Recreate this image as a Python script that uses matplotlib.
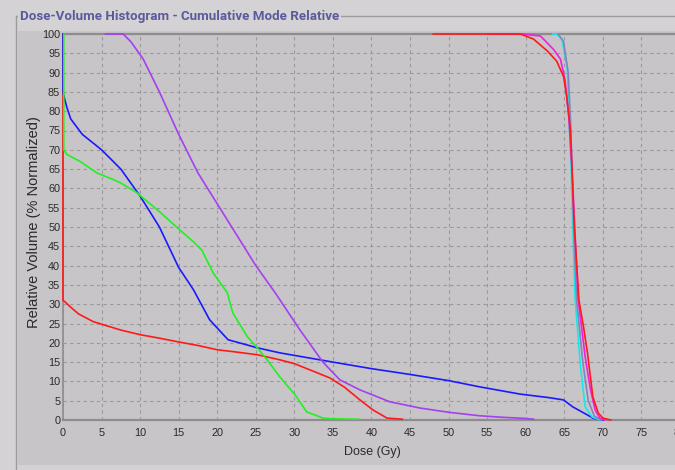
import matplotlib
matplotlib.use("Agg")
import matplotlib.pyplot as plt
from matplotlib.patches import Rectangle
from matplotlib.lines import Line2D
from matplotlib import font_manager

# ---------------- data ----------------
x_ticks = list(range(0, 85, 5))
y_ticks = list(range(0, 105, 5))

red_low_dose = [0, 0, 0.26, 0.9, 2, 3.9, 5.2, 7.5, 10, 12.5, 14.8, 17.5, 20, 22.5, 25.2, 28.1,
                30, 32, 34.6, 36.5, 38.5, 40.2, 42, 44]
red_low_vol = [100, 31, 30.6, 29.4, 27.5, 25.5, 24.7, 23.3, 22.1, 21.2, 20.3, 19.3, 18.2, 17.6,
               16.9, 15.6, 14.6, 13, 10.9, 8.5, 5.2, 2.6, 0.5, 0.2]

blue_dose = [0, 0, 0.1, 0.5, 1, 2.5, 5, 7.5, 10, 12.5, 15, 16.9, 19, 21.4, 25.2, 28.1, 35, 40, 45,
             50, 54, 59.3, 63, 64.9, 66.1, 68, 68.7, 69.5, 70]
blue_vol = [100, 85, 84, 81, 78, 74, 70, 65, 58, 50, 39.5, 33.8, 26, 20.8, 18.7, 17.4, 15.0, 13.3,
            11.8, 10.2, 8.6, 6.7, 5.8, 5.2, 3.4, 1.3, 0.5, 0.1, 0]

green_dose = [0.1, 0.1, 0.5, 2.2, 4.4, 6.5, 7.4, 9.5, 12.5, 15, 17, 18, 19.5, 21.3, 22, 23.9,
              25.2, 26.5, 28.1, 30.1, 31.6, 33.7, 35, 38.3]
green_vol = [100, 70, 68.8, 67, 64, 62.3, 61.5, 59, 54, 49.5, 46, 44, 38, 33, 27.8, 21.6, 18.7,
             15.5, 11.2, 6.5, 2.1, 0.5, 0.3, 0.2]

purple_dose = [5.5, 7.8, 8.8, 10.4, 12.5, 15, 17.5, 20, 22.5, 25, 27.5, 30.7, 33.7, 35.9, 38.5,
               42.4, 46.3, 50, 54, 57, 60, 61]
purple_vol = [100, 100, 98, 93.5, 85, 74, 64, 56, 48, 40, 33, 23.4, 15, 10.4, 7.8, 4.7, 3.1,
              2.0, 1.1, 0.7, 0.4, 0.2]

cyan_dose = [63.5, 64.0, 64.7, 65.4, 65.6, 65.9, 66.1, 66.4, 67.1, 67.7, 68.6, 69.6]
cyan_vol = [100, 100, 98.7, 91, 78, 65, 50, 31.2, 13.8, 3.4, 0.8, 0]

slate_dose = [64.2, 64.9, 65.5, 65.8, 66.0, 66.2, 66.6, 67.4, 68.1, 68.9, 69.8]
slate_vol = [100, 98, 90, 78, 65, 50, 31, 15, 5, 1, 0]

magenta_dose = [55, 59.3, 61.9, 63.6, 64.5, 65.1, 65.6, 66.0, 66.4, 66.8, 67.7, 68.4, 69.0, 69.6, 70.2]
magenta_vol = [100, 100, 99.5, 96, 93.5, 88, 78, 65, 48, 31.2, 16.4, 7.8, 2.6, 0.5, 0]

red_high_dose = [48, 59.3, 61, 62.8, 64, 64.9, 65.3, 65.8, 66.0, 66.3, 66.9, 67.5, 68.0, 68.7,
                 69.4, 70, 71]
red_high_vol = [100, 100, 98.7, 95.6, 93, 89, 84, 75, 65, 50, 31, 24, 17.4, 6, 1.8, 0.5, 0]

title = "Dose-Volume Histogram - Cumulative Mode Relative"
xlabel = "Dose (Gy)"
ylabel = "Relative Volume (% Normalized)"

# ---------------- styling ----------------
W, H = 675, 470
FIG_BG = "#d4d2d4"
PANEL_BG = "#c8c5c8"

avail = {f.name for f in font_manager.fontManager.ttflist}
if "Liberation Sans Narrow" in avail:
    title_family = "Liberation Sans Narrow"
elif "Roboto" in avail:
    title_family = "Roboto"
else:
    title_family = "Liberation Sans"
label_family = "Liberation Sans"

fig = plt.figure(figsize=(W / 100, H / 100), dpi=100, facecolor=FIG_BG)

# background overlay axes in pixel coordinates
bg = fig.add_axes([0, 0, 1, 1], zorder=0)
bg.set_xlim(0, W)
bg.set_ylim(H, 0)
bg.axis("off")
bg.add_patch(Rectangle((18, 31), W - 18, 465 - 31, facecolor=PANEL_BG, edgecolor="none"))
# group box border
bg.add_line(Line2D([16, 16], [16, H], color="#9c9a9c", lw=1.0))
bg.add_line(Line2D([16, W], [16, 16], color="#9c9a9c", lw=1.0))
t = bg.text(20, 16.5, title, color="#5a5a9c", fontsize=10, fontweight="bold",
            family=title_family, ha="left", va="center",
            bbox=dict(facecolor=FIG_BG, edgecolor="none", pad=1.5))
fig.canvas.draw()
bb = t.get_window_extent()
target = 300.0
size = 10 * target / bb.width
t.set_fontsize(max(size, 9.6))

# main axes
left, right, top, bottom = 63, 680, 34, 420
ax = fig.add_axes([left / W, 1 - bottom / H, (right - left) / W, (bottom - top) / H], zorder=1)
ax.set_facecolor(PANEL_BG)

lw = 1.2
kw = dict(lw=lw, zorder=3, clip_on=False)
ax.plot(red_low_dose, red_low_vol, color="#ff1a1a", **kw)
ax.plot(blue_dose, blue_vol, color="#1a1aff", **kw)
ax.plot(green_dose, green_vol, color="#22f022", **kw)
ax.plot(purple_dose, purple_vol, color="#a440f0", **kw)
ax.plot(cyan_dose, cyan_vol, color="#18e8e8", **kw)
ax.plot(slate_dose, slate_vol, color="#8484bc", **kw)
ax.plot(magenta_dose, magenta_vol, color="#f41ee0", **kw)
ax.plot(red_high_dose, red_high_vol, color="#ff1a1a", **kw)

ax.set_xlim(0, 80)
ax.set_ylim(0, 100)
ax.set_xticks(x_ticks)
ax.set_yticks(y_ticks)
ax.set_xticklabels([str(v) for v in x_ticks])
ax.set_yticklabels([str(v) for v in y_ticks])
ax.tick_params(axis="both", length=0, labelsize=7.8, labelcolor="#2a2a2a")
ax.tick_params(axis="y", pad=2)
ax.tick_params(axis="x", pad=6)
for lab in ax.get_xticklabels() + ax.get_yticklabels():
    lab.set_family(label_family)

ax.grid(True, color="#9a989a", lw=0.8, linestyle=(0, (3, 3)))
ax.set_axisbelow(True)

for s in ["top", "bottom"]:
    ax.spines[s].set_color("#8e8c8e")
    ax.spines[s].set_linewidth(1.6)
ax.spines["left"].set_color("#8e8c8e")
ax.spines["left"].set_linewidth(1.2)
ax.spines["right"].set_visible(False)

fig.text(372 / W, 1 - 452 / H, xlabel, ha="center", va="center", fontsize=9,
         family=label_family, color="#2a2a2a")
fig.text(34 / W, 1 - 222 / H, ylabel, ha="center", va="center", rotation=90, fontsize=10.5,
         family=label_family, color="#2a2a2a")

fig.savefig("out.png", dpi=100, facecolor=FIG_BG)
